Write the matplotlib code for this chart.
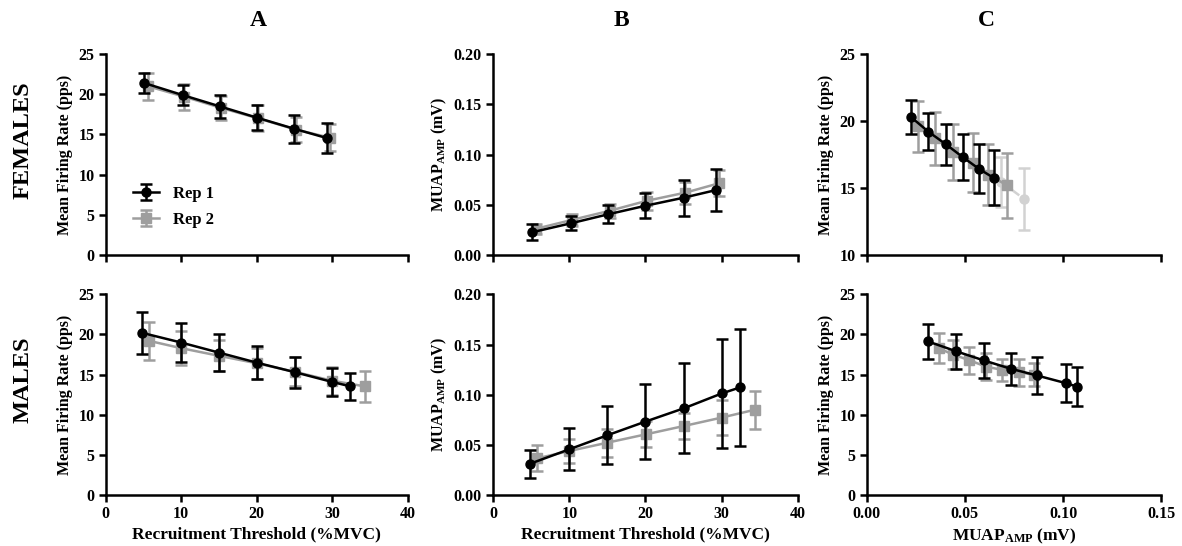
import numpy as np
import matplotlib
matplotlib.use('Agg')
import matplotlib.pyplot as plt

plt.rcParams['font.family'] = 'Liberation Serif'
plt.rcParams['font.weight'] = 'bold'
plt.rcParams['axes.labelweight'] = 'bold'
plt.rcParams['mathtext.fontset'] = 'custom'
plt.rcParams['mathtext.rm'] = 'Liberation Serif:bold'
plt.rcParams['mathtext.bf'] = 'Liberation Serif:bold'

# ---- females ----
f_rt1 = [5.1, 10.2, 15.1, 20.0, 25.0, 29.3]
f_rt2 = [5.6, 10.4, 15.3, 20.2, 25.2, 29.7]
# A: firing rate vs recruitment threshold
fa_fr1 = [21.4, 19.9, 18.5, 17.1, 15.7, 14.55]
fa_sd1 = [1.3, 1.3, 1.4, 1.55, 1.75, 1.9]
fa_fr2 = [21.0, 19.7, 18.3, 17.0, 15.6, 14.6]
fa_sd2 = [1.7, 1.6, 1.5, 1.6, 1.6, 1.7]
# B: MUAP amplitude vs recruitment threshold
fb_amp1 = [0.0226, 0.0315, 0.0405, 0.049, 0.057, 0.0647]
fb_sd1 = [0.008, 0.007, 0.009, 0.0125, 0.018, 0.021]
fb_amp2 = [0.026, 0.035, 0.044, 0.054, 0.062, 0.0715]
fb_sd2 = [0.005, 0.006, 0.007, 0.009, 0.011, 0.013]
# C: firing rate vs MUAP amplitude
fc_fr1 = [20.3, 19.2, 18.25, 17.3, 16.45, 15.75]
fc_sd1 = [1.25, 1.4, 1.5, 1.7, 1.85, 2.05]
fc_fr2 = [19.6, 18.7, 17.7, 16.9, 16.0, 15.2]
fc_sd2 = [1.9, 1.95, 2.1, 2.2, 2.3, 2.45]
fc_amp3 = [0.0685, 0.080]
fc_fr3 = [15.45, 14.2]
fc_sd3 = [1.9, 2.3]

# ---- males ----
m_rt1 = [4.85, 10.0, 15.0, 20.0, 25.1, 30.0, 32.4]
m_rt2 = [5.8, 10.0, 15.0, 20.1, 25.1, 30.0, 34.3]
ma_fr1 = [20.2, 19.0, 17.75, 16.5, 15.3, 14.1, 13.55]
ma_sd1 = [2.65, 2.45, 2.25, 2.07, 1.95, 1.78, 1.7]
ma_fr2 = [19.2, 18.3, 17.35, 16.4, 15.35, 14.25, 13.55]
ma_sd2 = [2.35, 2.1, 1.95, 1.9, 1.8, 1.75, 1.9]
mb_amp1 = [0.0313, 0.0457, 0.0597, 0.0733, 0.0867, 0.1013, 0.1073]
mb_sd1 = [0.014, 0.021, 0.029, 0.037, 0.045, 0.054, 0.058]
mb_amp2 = [0.0367, 0.044, 0.0523, 0.0607, 0.069, 0.0773, 0.085]
mb_sd2 = [0.013, 0.012, 0.014, 0.013, 0.013, 0.017, 0.019]
mc_fr1 = [19.13, 17.9, 16.77, 15.74, 14.9, 13.95, 13.5]
mc_sd1 = [2.2, 2.15, 2.2, 2.0, 2.35, 2.4, 2.4]
mc_fr2 = [18.3, 17.5, 16.8, 16.0, 15.6, 15.3, 15.0]
mc_sd2 = [1.87, 1.8, 1.7, 1.7, 1.4, 1.65, 1.4]

black = 'k'
grey = '#9e9e9e'
light = '#d2d2d2'
fs = 11.5


def rep(ax, x, y, sd, color, marker, label=None, ls='-', z=2):
    ax.errorbar(x, y, yerr=sd, fmt=marker, ls=ls, color=color, ms=6.5, lw=1.8,
                elinewidth=1.8, capsize=4, capthick=1.8, label=label, zorder=z)


def style(ax, xlim, ylim, xticks, yticks, yfmt, xfmt, showx):
    ax.set_xlim(xlim)
    ax.set_ylim(ylim)
    ax.set_xticks(xticks)
    ax.set_yticks(yticks)
    ax.set_yticklabels([yfmt % v for v in yticks], fontsize=fs)
    if showx:
        ax.set_xticklabels([xfmt % v for v in xticks], fontsize=fs)
    else:
        ax.set_xticklabels([])
    for s in ['top', 'right']:
        ax.spines[s].set_visible(False)
    for s in ['left', 'bottom']:
        ax.spines[s].set_linewidth(1.8)
    ax.tick_params(width=1.8, length=5, direction='out', pad=3)


fig = plt.figure(figsize=(11.82, 5.46), dpi=100)

lefts = [0.0893, 0.4171, 0.7331]
widths = [0.2555, 0.258, 0.2495]
rows = [0.533, 0.093]
h = 0.368

axs = [[fig.add_axes([lefts[c], rows[r], widths[c], h]) for c in range(3)] for r in range(2)]

fr_label = 'Mean Firing Rate (pps)'
amp_label = r'$\mathrm{MUAP_{AMP}}$ (mV)'
rt_label = 'Recruitment Threshold (%MVC)'
lab_fs = 11.5
xlab_fs = 12.5

# females
ax = axs[0][0]
rep(ax, f_rt2, fa_fr2, fa_sd2, grey, 's', 'Rep 2')
rep(ax, f_rt1, fa_fr1, fa_sd1, black, 'o', 'Rep 1', z=3)
style(ax, (0, 40), (0, 25), [0, 10, 20, 30, 40], [0, 5, 10, 15, 20, 25], '%d', '%d', False)
ax.set_ylabel(fr_label, fontsize=lab_fs, labelpad=4)
hd, lb = ax.get_legend_handles_labels()
ax.legend(hd[::-1], lb[::-1], loc='center left', bbox_to_anchor=(0.04, 0.24), frameon=False,
          fontsize=12, handlelength=1.6, labelspacing=0.6)

ax = axs[0][1]
rep(ax, f_rt2, fb_amp2, fb_sd2, grey, 's')
rep(ax, f_rt1, fb_amp1, fb_sd1, black, 'o', z=3)
style(ax, (0, 40), (0, 0.2), [0, 10, 20, 30, 40], [0, 0.05, 0.10, 0.15, 0.20], '%.2f', '%d', False)
ax.set_ylabel(amp_label, fontsize=lab_fs, labelpad=3)

ax = axs[0][2]
rep(ax, fc_amp3, fc_fr3, fc_sd3, light, 'o', ls='--', z=1)
rep(ax, fb_amp2, fc_fr2, fc_sd2, grey, 's')
rep(ax, fb_amp1, fc_fr1, fc_sd1, black, 'o', z=3)
style(ax, (0, 0.15), (10, 25), [0, 0.05, 0.10, 0.15], [10, 15, 20, 25], '%d', '%.2f', False)
ax.set_ylabel(fr_label, fontsize=lab_fs, labelpad=4)

# males
ax = axs[1][0]
rep(ax, m_rt2, ma_fr2, ma_sd2, grey, 's')
rep(ax, m_rt1, ma_fr1, ma_sd1, black, 'o', z=3)
style(ax, (0, 40), (0, 25), [0, 10, 20, 30, 40], [0, 5, 10, 15, 20, 25], '%d', '%d', True)
ax.set_ylabel(fr_label, fontsize=lab_fs, labelpad=4)
ax.set_xlabel(rt_label, fontsize=xlab_fs, labelpad=3)

ax = axs[1][1]
rep(ax, m_rt2, mb_amp2, mb_sd2, grey, 's')
rep(ax, m_rt1, mb_amp1, mb_sd1, black, 'o', z=3)
style(ax, (0, 40), (0, 0.2), [0, 10, 20, 30, 40], [0, 0.05, 0.10, 0.15, 0.20], '%.2f', '%d', True)
ax.set_ylabel(amp_label, fontsize=lab_fs, labelpad=3)
ax.set_xlabel(rt_label, fontsize=xlab_fs, labelpad=3)

ax = axs[1][2]
rep(ax, mb_amp2, mc_fr2, mc_sd2, grey, 's')
rep(ax, mb_amp1, mc_fr1, mc_sd1, black, 'o', z=3)
style(ax, (0, 0.15), (0, 25), [0, 0.05, 0.10, 0.15], [0, 5, 10, 15, 20, 25], '%d', '%.2f', True)
ax.set_ylabel(fr_label, fontsize=lab_fs, labelpad=4)
ax.set_xlabel(amp_label, fontsize=xlab_fs, labelpad=3)

for x, t in zip([258, 621, 986], ['A', 'B', 'C']):
    fig.text(x / 1182, 1 - 20 / 546, t, ha='center', va='center', fontsize=17, fontweight='bold')
fig.text(0.0195, 1 - 140 / 546, 'FEMALES', rotation=90, ha='center', va='center', fontsize=17.5, fontweight='bold')
fig.text(0.0195, 1 - 380 / 546, 'MALES', rotation=90, ha='center', va='center', fontsize=17.5, fontweight='bold')

fig.savefig('out.png', dpi=100)
